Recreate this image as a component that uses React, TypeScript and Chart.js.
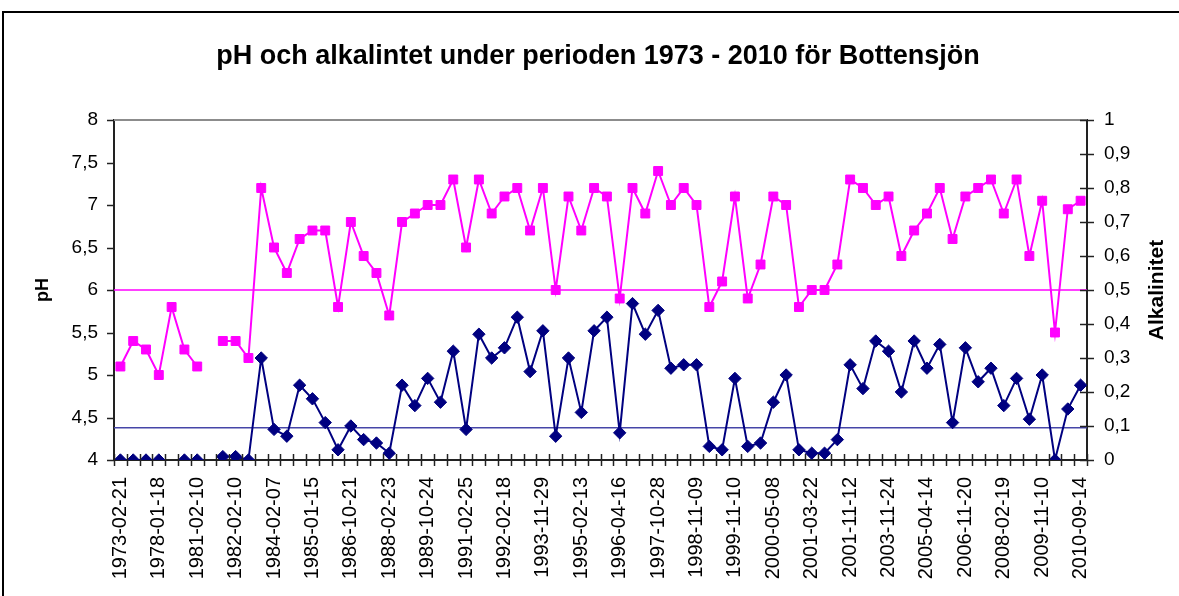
import React, { useEffect, useRef } from 'react';
import { Chart, registerables } from 'chart.js';

Chart.register(...registerables);

const titleText = 'pH och alkalintet under perioden 1973 - 2010 för Bottensjön';
const leftAxisTitle = 'pH';
const rightAxisTitle = 'Alkalinitet';

const tickDates = [
  '1973-02-21', '1978-01-18', '1981-02-10', '1982-02-10', '1984-02-07', '1985-01-15',
  '1986-10-21', '1988-02-23', '1989-10-24', '1991-02-25', '1992-02-18', '1993-11-29',
  '1995-02-13', '1996-04-16', '1997-10-28', '1998-11-09', '1999-11-10', '2000-05-08',
  '2001-03-22', '2001-11-12', '2003-11-24', '2005-04-14', '2006-11-20', '2008-02-19',
  '2009-11-10', '2010-09-14',
];

const phValues: (number | null)[] = [
  5.1, 5.4, 5.3, 5.0, 5.8, 5.3, 5.1, null, 5.4, 5.4,
  5.2, 7.2, 6.5, 6.2, 6.6, 6.7, 6.7, 5.8, 6.8, 6.4,
  6.2, 5.7, 6.8, 6.9, 7.0, 7.0, 7.3, 6.5, 7.3, 6.9,
  7.1, 7.2, 6.7, 7.2, 6.0, 7.1, 6.7, 7.2, 7.1, 5.9,
  7.2, 6.9, 7.4, 7.0, 7.2, 7.0, 5.8, 6.1, 7.1, 5.9,
  6.3, 7.1, 7.0, 5.8, 6.0, 6.0, 6.3, 7.3, 7.2, 7.0,
  7.1, 6.4, 6.7, 6.9, 7.2, 6.6, 7.1, 7.2, 7.3, 6.9,
  7.3, 6.4, 7.05, 5.5, 6.95, 7.05,
];

const alkValues: (number | null)[] = [
  0, 0, 0, 0, null, 0, 0, null, 0.01, 0.01,
  0, 0.30, 0.09, 0.07, 0.22, 0.18, 0.11, 0.03, 0.10, 0.06,
  0.05, 0.02, 0.22, 0.16, 0.24, 0.17, 0.32, 0.09, 0.37, 0.30,
  0.33, 0.42, 0.26, 0.38, 0.07, 0.30, 0.14, 0.38, 0.42, 0.08,
  0.46, 0.37, 0.44, 0.27, 0.28, 0.28, 0.04, 0.03, 0.24, 0.04,
  0.05, 0.17, 0.25, 0.03, 0.02, 0.02, 0.06, 0.28, 0.21, 0.35,
  0.32, 0.20, 0.35, 0.27, 0.34, 0.11, 0.33, 0.23, 0.27, 0.16,
  0.24, 0.12, 0.25, 0, 0.15, 0.22,
];

const phLimit = 6;
const alkLimit = 0.095;

const labelEvery = 3;
const categories = phValues.map((_, i) => (i % labelEvery === 0 ? tickDates[i / labelEvery] ?? '' : ''));

const FONT = "'Liberation Sans', Arial, sans-serif";

const fmt = (v: number) => {
  if (Number.isInteger(v)) return String(v);
  return v.toFixed(1).replace('.', ',');
};

const decorPlugin = {
  id: 'decor',
  beforeDatasetsDraw(chart: any) {
    const { ctx, chartArea, scales } = chart;
    const { left, right, top } = chartArea;
    ctx.save();
    ctx.strokeStyle = '#8c8c8c';
    ctx.lineWidth = 2;
    ctx.beginPath();
    ctx.moveTo(left, top);
    ctx.lineTo(right, top);
    ctx.stroke();
    const yp = scales.y.getPixelForValue(phLimit);
    ctx.strokeStyle = '#ff00ff';
    ctx.lineWidth = 1.5;
    ctx.beginPath();
    ctx.moveTo(left, yp);
    ctx.lineTo(right, yp);
    ctx.stroke();
    const ya = scales.y1.getPixelForValue(alkLimit);
    ctx.strokeStyle = '#4646a8';
    ctx.lineWidth = 1.5;
    ctx.beginPath();
    ctx.moveTo(left, ya);
    ctx.lineTo(right, ya);
    ctx.stroke();
    ctx.restore();
  },
  afterDraw(chart: any) {
    const { ctx, chartArea, scales, width, height } = chart;
    const { left, right, top, bottom } = chartArea;
    ctx.save();
    ctx.strokeStyle = '#222';
    ctx.lineWidth = 1.5;
    scales.y.ticks.forEach((t: any) => {
      const y = Math.round(scales.y.getPixelForValue(t.value)) + 0.5;
      ctx.beginPath();
      ctx.moveTo(left - 7, y);
      ctx.lineTo(left, y);
      ctx.stroke();
    });
    scales.y1.ticks.forEach((t: any) => {
      const y = Math.round(scales.y1.getPixelForValue(t.value)) + 0.5;
      ctx.beginPath();
      ctx.moveTo(right - 7, y);
      ctx.lineTo(right + 7, y);
      ctx.stroke();
    });
    const n = categories.length;
    for (let i = 0; i <= n; i++) {
      const x = i === 0 ? left : i === n ? right : (scales.x.getPixelForValue(i - 1) + scales.x.getPixelForValue(i)) / 2;
      const xx = Math.round(x) + 0.5;
      ctx.beginPath();
      ctx.moveTo(xx, bottom - 6);
      ctx.lineTo(xx, bottom + 6);
      ctx.stroke();
    }
    ctx.strokeStyle = '#000';
    ctx.lineWidth = 2;
    ctx.beginPath();
    ctx.moveTo(3, height + 5);
    ctx.lineTo(3, 12);
    ctx.lineTo(width + 5, 12);
    ctx.stroke();
    ctx.fillStyle = '#000';
    ctx.font = `bold 27px ${FONT}`;
    ctx.textAlign = 'center';
    ctx.textBaseline = 'middle';
    ctx.fillText(titleText, 598, 57);
    ctx.font = `bold 18px ${FONT}`;
    ctx.save();
    ctx.translate(43, (top + bottom) / 2);
    ctx.rotate(-Math.PI / 2);
    ctx.fillText(leftAxisTitle, 0, 0);
    ctx.restore();
    ctx.font = `bold 21px ${FONT}`;
    ctx.save();
    ctx.translate(1157, (top + bottom) / 2);
    ctx.rotate(-Math.PI / 2);
    ctx.fillText(rightAxisTitle, 0, 0);
    ctx.restore();
    ctx.restore();
  },
};

export default function App() {
  const canvasRef = useRef<HTMLCanvasElement | null>(null);

  useEffect(() => {
    const canvas = canvasRef.current;
    if (!canvas) return;
    const chart = new Chart(canvas, {
      type: 'line',
      data: {
        labels: categories,
        datasets: [
          {
            label: 'pH',
            data: phValues,
            yAxisID: 'y',
            borderColor: '#ff00ff',
            backgroundColor: '#ff00ff',
            borderWidth: 2,
            pointStyle: 'rect',
            pointRadius: 6.3,
            pointBorderWidth: 1,
            pointBorderColor: '#ff00ff',
            pointBackgroundColor: '#ff00ff',
            spanGaps: false,
            tension: 0,
          },
          {
            label: 'Alkalinitet',
            data: alkValues,
            yAxisID: 'y1',
            borderColor: '#000080',
            backgroundColor: '#000080',
            borderWidth: 2,
            pointStyle: 'rectRot',
            pointRadius: 6.2,
            pointBorderWidth: 1,
            pointBorderColor: '#000080',
            pointBackgroundColor: '#000080',
            spanGaps: false,
            tension: 0,
          },
        ],
      },
      options: {
        animation: false,
        responsive: false,
        events: [],
        layout: { padding: { top: 120, left: 0, right: 0, bottom: 0 } },
        plugins: {
          legend: { display: false },
          title: { display: false },
          tooltip: { enabled: false },
        },
        scales: {
          x: {
            type: 'category',
            offset: true,
            grid: { display: false, drawTicks: false },
            border: { display: true, color: '#222', width: 2 },
            ticks: {
              autoSkip: false,
              maxRotation: 90,
              minRotation: 90,
              padding: 17,
              color: '#000',
              font: { family: FONT, size: 20 },
            },
            afterFit: (s: any) => { s.height = 136; },
          },
          y: {
            type: 'linear',
            position: 'left',
            min: 4,
            max: 8,
            grid: { display: false, drawTicks: false },
            border: { display: true, color: '#222', width: 2 },
            ticks: {
              stepSize: 0.5,
              padding: 16,
              color: '#000',
              font: { family: FONT, size: 19 },
              callback: (v: any) => fmt(Number(v)),
            },
            afterFit: (s: any) => { s.width = 114; },
          },
          y1: {
            type: 'linear',
            position: 'right',
            min: 0,
            max: 1,
            grid: { display: false, drawTicks: false },
            border: { display: true, color: '#222', width: 2 },
            ticks: {
              stepSize: 0.1,
              padding: 17,
              color: '#000',
              font: { family: FONT, size: 19 },
              callback: (v: any) => fmt(Number(v)),
            },
            afterFit: (s: any) => { s.width = 92; },
          },
        },
      },
      plugins: [decorPlugin],
    });
    return () => chart.destroy();
  }, []);

  return (
    <div style={{ position: 'fixed', left: 0, top: 0, width: 1179, height: 596, background: '#fff', overflow: 'hidden' }}>
      <canvas ref={canvasRef} width={1179} height={596} style={{ display: 'block' }} />
    </div>
  );
}
